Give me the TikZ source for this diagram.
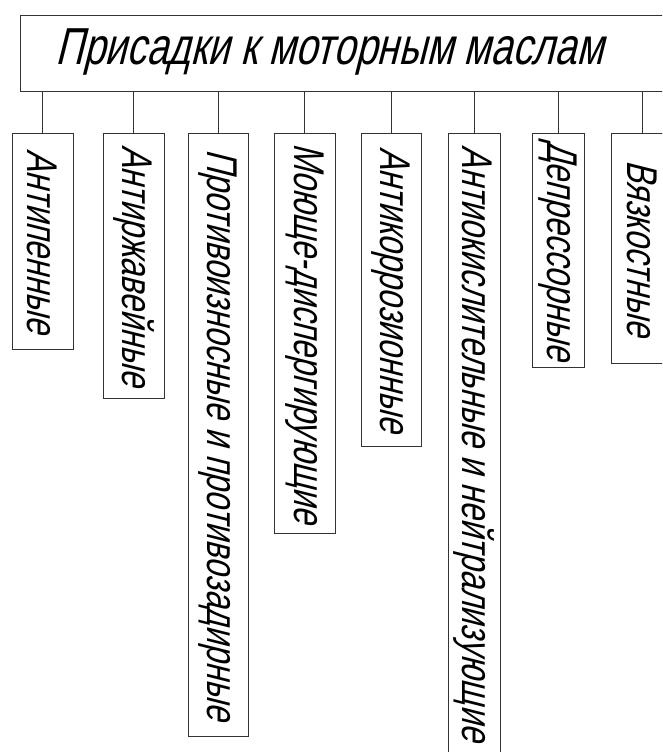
\documentclass[tikz,border=0pt]{standalone}
\usepackage{fontspec}
\newfontfamily\gost[FakeSlant=0.25,FakeStretch=0.75]{Liberation Sans}
\begin{document}
\begin{tikzpicture}[x=1pt,y=-1pt,
  frame/.style={draw=black!80, line width=0.8pt},
  titlebox/.style={frame, anchor=north west, inner sep=0pt, minimum width=690pt, minimum height=76pt},
  titletxt/.style={anchor=base west, inner sep=0pt, font=\gost\fontsize{52}{60}\selectfont},
  vbox/.style={frame, rotate=-90, anchor=west, inner sep=0pt, font=\gost\fontsize{43}{50}\selectfont},
  link/.style={draw=black!80, line width=0.8pt}]
\clip (0,0) rectangle (662,752);
\fill[white] (0,0) rectangle (662,752);
\node[titlebox] (title) at (20,15) {};
\node[titletxt] (titletext) at (55,65) {Присадки к моторным маслам};
\node[vbox, minimum width=216pt, minimum height=61pt] (b1) at (42.5,133) {Антипенные};
\node[vbox, minimum width=265pt, minimum height=61pt] (b2) at (133.5,133) {Антиржавейные};
\node[vbox, minimum width=603pt, minimum height=60pt] (b3) at (218,133) {Противоизносные и противозадирные};
\node[vbox, minimum width=400pt, minimum height=61pt] (b4) at (304.5,133) {Моюще-диспергирующие};
\node[vbox, minimum width=313pt, minimum height=60pt] (b5) at (391,133) {Антикоррозионные};
\node[vbox, minimum width=620pt, minimum height=52pt] (b6) at (474,133) {Антиокислительные и нейтрализующие};
\node[vbox, minimum width=234pt, minimum height=52pt] (b7) at (558,133) {Депрессорные};
\node[vbox, minimum width=230pt, minimum height=62pt] (b8) at (642,133) {Вязкостные};
\foreach \b in {b1,b2,b3,b4,b5,b6,b7,b8}
  \draw[link] (\b.west) -- (\b.west |- title.south);
\end{tikzpicture}
\end{document}
